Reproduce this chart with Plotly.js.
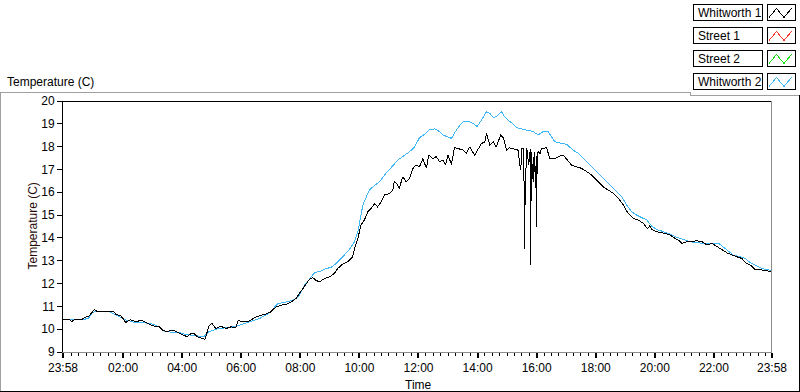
<!DOCTYPE html>
<html><head><meta charset="utf-8">
<script src="https://cdn.plot.ly/plotly-3.0.1.min.js"></script>
<style>html,body{margin:0;padding:0;background:#fff;overflow:hidden}#chart{width:800px;height:392px}
#chart .scatterlayer path.js-line{shape-rendering:crispEdges}
#chart .layer-above path, #chart .xtick, #chart .ytick{shape-rendering:crispEdges}</style>
</head><body><div id="chart"></div>
<script>
// ---- data ----
const seriesNames = ["Whitworth 1", "Street 1", "Street 2", "Whitworth 2"];
const seriesColors = ["#000000", "#ff3030", "#10e010", "#3fb6f6"];

// x ticks (minutes after the 23:58 start)
const tickMinutes = [0, 122, 242, 362, 482, 602, 722, 842, 962, 1082, 1202, 1322, 1440];
const tickLabels = ["23:58", "02:00", "04:00", "06:00", "08:00", "10:00", "12:00", "14:00", "16:00", "18:00", "20:00", "22:00", "23:58"];
const yTickValues = [9, 10, 11, 12, 13, 14, 15, 16, 17, 18, 19, 20];

// Whitworth 1 (black)
const w1Minutes = [0,5,12,18,25,32,39,46,52,59,64,69,79,93,103,107,117,124,127,137,147,161,168,178,188,195,202,212,219,225,236,246,252,259,266,273,283,288,293,297,303,310,320,331,341,351,356,364,375,382,392,402,412,422,432,443,453,463,473,480,487,494,500,507,514,521,531,541,551,558,568,578,585,588,594,599,605,612,619,626,633,639,646,653,663,670,673,680,683,690,697,704,711,717,724,731,738,743,751,758,765,772,777,782,789,795,802,812,819,826,836,843,850,857,860,867,874,880,889,895,901,907,914,924,928,930,931,936,937,939,942,946,949,950,951,955,957,960,961,962,963,965,969,972,982,989,999,1006,1016,1026,1033,1043,1053,1064,1074,1084,1097,1108,1118,1128,1138,1148,1159,1169,1179,1187,1192,1196,1206,1223,1233,1243,1250,1257,1267,1277,1287,1298,1308,1318,1328,1338,1349,1359,1369,1379,1386,1396,1406,1416,1427,1437,1440];
const w1Temps = [10.44,10.41,10.44,10.34,10.44,10.40,10.44,10.53,10.56,10.71,10.86,10.78,10.78,10.75,10.78,10.66,10.59,10.41,10.29,10.41,10.34,10.38,10.29,10.19,10.11,10.11,9.96,9.89,9.96,9.96,9.82,9.74,9.67,9.79,9.82,9.67,9.59,9.55,9.89,10.17,10.25,10.03,10.13,10.03,10.10,10.07,10.39,10.32,10.32,10.42,10.54,10.61,10.66,10.76,10.97,11.05,11.09,11.19,11.34,11.56,11.78,12.00,12.17,12.26,12.14,12.07,12.22,12.29,12.44,12.66,12.85,12.95,13.10,13.17,13.68,13.98,14.56,14.78,15.14,15.29,15.51,15.36,15.58,15.88,15.95,16.09,16.49,16.31,16.17,16.68,16.46,16.61,17.05,17.19,17.12,17.48,17.05,17.63,17.48,17.56,17.34,17.41,17.19,17.63,17.22,17.95,17.92,17.85,17.70,17.99,17.63,17.92,18.14,18.21,18.58,18.06,18.21,17.99,18.51,18.36,17.85,17.95,17.92,17.85,17.19,16.97,17.92,17.92,13.51,16.31,17.92,17.19,17.90,12.83,17.78,16.46,17.78,16.17,17.60,14.48,17.50,17.78,17.70,17.92,17.95,17.48,17.48,17.56,17.63,17.34,17.19,17.12,17.05,16.90,16.75,16.53,16.24,16.09,15.95,15.73,15.44,15.07,14.85,14.78,14.63,14.41,14.53,14.37,14.27,14.20,14.12,13.98,13.90,13.76,13.83,13.83,13.88,13.83,13.69,13.76,13.64,13.49,13.34,13.24,13.17,13.10,12.91,12.81,12.61,12.61,12.58,12.56,12.52];

// Whitworth 2 (light blue)
const w2Minutes = [0,39,52,59,66,93,107,127,147,164,181,195,208,236,249,276,286,297,317,337,358,378,399,419,436,453,470,480,490,500,511,524,534,544,555,568,582,592,599,609,616,622,633,643,656,670,680,694,704,714,724,734,744,755,765,772,780,789,799,809,816,826,833,841,850,860,867,874,880,891,897,906,913,921,931,941,955,965,975,985,992,999,1013,1023,1036,1047,1057,1070,1084,1097,1111,1125,1135,1145,1155,1165,1176,1186,1196,1206,1220,1233,1247,1260,1274,1287,1301,1332,1342,1352,1362,1376,1386,1396,1406,1420,1430,1440];
const w2Temps = [10.41,10.41,10.48,10.71,10.78,10.78,10.63,10.41,10.29,10.29,10.23,10.11,9.89,9.85,9.77,9.70,9.67,9.90,10.03,10.07,10.17,10.32,10.46,10.71,11.12,11.19,11.29,11.49,11.93,12.17,12.48,12.55,12.66,12.70,12.88,13.17,13.50,13.83,14.27,15.44,15.80,16.09,16.31,16.46,16.83,17.19,17.41,17.63,17.78,17.99,18.39,18.54,18.73,18.78,18.66,18.51,18.44,18.36,18.73,19.02,19.12,19.09,19.02,18.88,19.17,19.53,19.46,19.27,19.31,19.53,19.31,19.12,19.02,18.83,18.78,18.73,18.66,18.51,18.66,18.66,18.44,18.21,18.14,18.10,17.85,17.70,17.48,17.19,16.90,16.61,16.31,16.02,15.80,15.44,15.14,15.00,14.88,14.78,14.51,14.37,14.27,14.17,14.02,13.93,13.83,13.79,13.76,13.76,13.58,13.39,13.24,13.17,13.10,12.91,12.81,12.66,12.61,12.56];

// ---- layout helpers (pixel -> paper) ----
const W = 800, H = 392;
const M = {l: 63, r: 28, t: 101, b: 40};
const PW = W - M.l - M.r, PH = H - M.t - M.b;
const px = x => (x - M.l) / PW;
const py = y => (H - M.b - y) / PH;
const FONT = "Liberation Sans, Arial, sans-serif";

const minorVals = [];
for (let m = 17; m < 1440; m += 15) if (tickMinutes.indexOf(m) < 0) minorVals.push(m);

const traces = [
  {x: w2Minutes, y: w2Temps, name: seriesNames[3], type: "scatter", mode: "lines",
   line: {color: seriesColors[3], width: 1}, showlegend: false, hoverinfo: "skip"},
  {x: w1Minutes, y: w1Temps, name: seriesNames[0], type: "scatter", mode: "lines",
   line: {color: seriesColors[0], width: 1}, showlegend: false, hoverinfo: "skip"}
];

const line = (x0, y0, x1, y1, color) => ({type: "line", xref: "paper", yref: "paper",
  x0: px(x0), y0: py(y0), x1: px(x1), y1: py(y1), line: {color: color, width: 1}, layer: "above"});

const shapes = [
  line(0, 92.5, 690, 92.5, "#a0a0a0"),
  line(0.5, 92, 0.5, 392, "#a0a0a0"),
  line(690.5, 92, 690.5, 95.5, "#a0a0a0"),
  line(690, 95.5, 800, 95.5, "#a0a0a0"),
  line(799.5, 95, 799.5, 392, "#000000"),
  line(0, 391.5, 800, 391.5, "#000000"),
  line(63, 101.5, 772, 101.5, "#000000"),
  line(771.5, 101, 771.5, 352, "#8c8c8c")
];
const annotations = [
  {text: "Temperature (C)", xref: "paper", yref: "paper", x: px(5), y: py(82), xanchor: "left", yanchor: "middle",
   showarrow: false, font: {family: FONT, size: 12, color: "#000"}},
  {text: "Temperature (C)", xref: "paper", yref: "paper", x: px(32), y: py(226.5), xanchor: "center", yanchor: "middle",
   textangle: -90, showarrow: false, font: {family: FONT, size: 12, color: "#2a0808"}},
  {text: "Time", xref: "paper", yref: "paper", x: px(418), y: py(385), xanchor: "center", yanchor: "middle",
   showarrow: false, font: {family: FONT, size: 12, color: "#000"}}
];
const rowTops = [4.5, 27.5, 50.5, 73.5];
seriesNames.forEach((nm, i) => {
  const t = rowTops[i];
  shapes.push({type: "rect", xref: "paper", yref: "paper", x0: px(693.5), x1: px(762.5), y0: py(t), y1: py(t + 16),
    line: {color: "#000", width: 1}, fillcolor: "rgba(0,0,0,0)"});
  shapes.push({type: "rect", xref: "paper", yref: "paper", x0: px(767.5), x1: px(795.5), y0: py(t), y1: py(t + 16),
    line: {color: "#000", width: 1}, fillcolor: "rgba(0,0,0,0)"});
  const pts = [[769, t + 13], [776.5, t + 4], [784, t + 13], [791.5, t + 4]];
  shapes.push({type: "path", xref: "paper", yref: "paper",
    path: pts.map((p, k) => (k ? "L" : "M") + px(p[0]) + "," + py(p[1])).join(" "),
    line: {color: seriesColors[i], width: 1}});
  annotations.push({text: nm, xref: "paper", yref: "paper", x: px(695.5), y: py(t + 8.5), xanchor: "left", yanchor: "middle",
    showarrow: false, font: {family: FONT, size: 12, color: "#000"}});
});

const layout = {
  width: W, height: H, margin: M,
  paper_bgcolor: "#fff", plot_bgcolor: "#fff",
  font: {family: FONT, size: 12, color: "#000"},
  showlegend: false,
  xaxis: {range: [0, 1440], tickmode: "array", tickvals: tickMinutes, ticktext: tickLabels,
    ticks: "outside", ticklen: 5, tickwidth: 2, tickcolor: "#000", showgrid: false, zeroline: false,
    showline: true, linecolor: "#8c8c8c", linewidth: 1,
    minor: {tickmode: "array", tickvals: minorVals, ticks: "outside", ticklen: 3, tickwidth: 1, tickcolor: "#000", showgrid: false},
    tickfont: {family: FONT, size: 12, color: "#000"}, fixedrange: true},
  yaxis: {range: [9, 20], tickmode: "array", tickvals: yTickValues, ticktext: yTickValues.map(String),
    ticks: "outside", ticklen: 5, tickwidth: 1, tickcolor: "#000", showgrid: false, zeroline: false,
    showline: true, linecolor: "#000", linewidth: 1,
    tickfont: {family: FONT, size: 12, color: "#000"}, fixedrange: true},
  shapes: shapes, annotations: annotations
};
Plotly.newPlot("chart", traces, layout, {displayModeBar: false, staticPlot: true});
</script></body></html>
